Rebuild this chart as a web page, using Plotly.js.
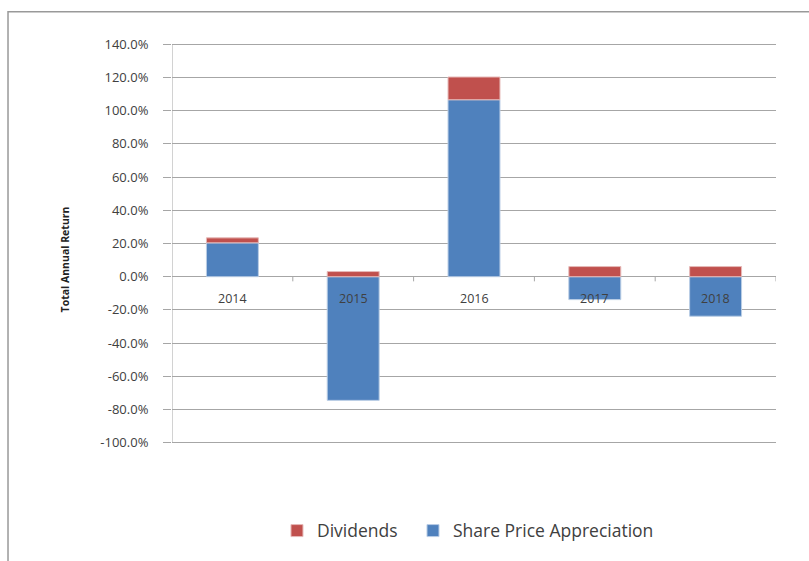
<!DOCTYPE html>
<html>
<head>
<meta charset="utf-8">
<script src="https://cdn.plot.ly/plotly-3.0.1.min.js"></script>
<style>html,body{margin:0;padding:0;background:#fff;}#chart{width:809px;height:561px;}</style>
</head>
<body>
<div id="chart"></div>
<script>
var years = ['2014', '2015', '2016', '2017', '2018'];
var sharePriceAppreciation = [20.4, -74.5, 106.6, -13.8, -23.8];
var dividends = [3.0, 3.1, 13.7, 6.1, 6.1];
var boundaries = [0.5, 1.5, 2.5, 3.5, 4.5];
var yTickVals = [-100, -80, -60, -40, -20, 0, 20, 40, 60, 80, 100, 120, 140];
var yTickLabels = ['-100.0%', '-80.0%', '-60.0%', '-40.0%', '-20.0%', '0.0%', '20.0%',
                   '40.0%', '60.0%', '80.0%', '100.0%', '120.0%', '140.0%'];
var yTitle = 'Total Annual Return';

var gridCol = '#a6a6a6';
var font = 'Open Sans, DejaVu Sans, sans-serif';
var legendFont = {family: font, size: 17.5, color: '#404040'};
var xRange = [-0.5, years.length - 0.5];

var traces = [
  {type: 'bar', name: 'Share Price Appreciation', x: years, y: sharePriceAppreciation,
   legend: 'legend2',
   marker: {color: '#4F81BD', line: {color: '#b9cde5', width: 1}}, hoverinfo: 'skip'},
  {type: 'bar', name: 'Dividends', x: years, y: dividends,
   legend: 'legend',
   marker: {color: '#C0504D', line: {color: '#e6b9b8', width: 1}}, hoverinfo: 'skip'}
];

var annotations = years.map(function (yr, i) {
  return {x: i, y: 0, xref: 'x', yref: 'y', text: yr, showarrow: false,
          yshift: -22, font: {family: font, size: 12.5, color: '#404040'}};
});
annotations.push({x: -0.177, y: 0.4618, xref: 'paper', yref: 'paper', text: '<b>' + yTitle + '</b>',
                  textangle: -90, showarrow: false, xanchor: 'center', yanchor: 'middle',
                  font: {family: font, size: 10.5, color: '#222222'}});

// y axis line spanning only the tick range
var shapes = [{type: 'line', xref: 'x', yref: 'y', x0: xRange[0], x1: xRange[0],
               y0: yTickVals[0], y1: yTickVals[yTickVals.length - 1],
               line: {color: gridCol, width: 1}}];
boundaries.forEach(function (b) {
  shapes.push({type: 'line', xref: 'x', yref: 'y', x0: b, x1: b, y0: 0, y1: -2.8,
               line: {color: gridCol, width: 1}});
});
shapes.push({type: 'rect', xref: 'paper', yref: 'paper', x0: -0.2715, x1: 1.2, y0: 1.0585, y1: -0.5,
             line: {color: '#999999', width: 1.5}, fillcolor: 'rgba(0,0,0,0)', layer: 'below'});

var layout = {
  width: 809, height: 561,
  margin: {l: 172, r: 33, t: 36, b: 106, pad: 0},
  paper_bgcolor: '#ffffff', plot_bgcolor: 'rgba(0,0,0,0)',
  barmode: 'relative', bargap: 0.57,
  showlegend: true,
  legend: {orientation: 'h', x: 0.1738, xanchor: 'left', y: -0.1487, yanchor: 'top',
           font: legendFont, itemwidth: 30, bgcolor: 'rgba(0,0,0,0)'},
  legend2: {orientation: 'h', x: 0.399, xanchor: 'left', y: -0.1487, yanchor: 'top',
            font: legendFont, itemwidth: 30, bgcolor: 'rgba(0,0,0,0)'},
  xaxis: {type: 'category', showticklabels: false, showgrid: false, zeroline: false,
          showline: false, ticks: '', range: xRange, fixedrange: true},
  yaxis: {range: [-105, 145], tickmode: 'array', tickvals: yTickVals, ticktext: yTickLabels,
          showgrid: true, gridcolor: gridCol, gridwidth: 1,
          zeroline: true, zerolinecolor: gridCol, zerolinewidth: 1,
          showline: false,
          ticks: 'outside', ticklen: 8, tickcolor: gridCol, ticklabelstandoff: 12,
          tickfont: {family: font, size: 13, color: '#404040'},
          fixedrange: true},
  annotations: annotations,
  shapes: shapes
};

Plotly.newPlot('chart', traces, layout, {displayModeBar: false, staticPlot: true});
</script>
</body>
</html>
